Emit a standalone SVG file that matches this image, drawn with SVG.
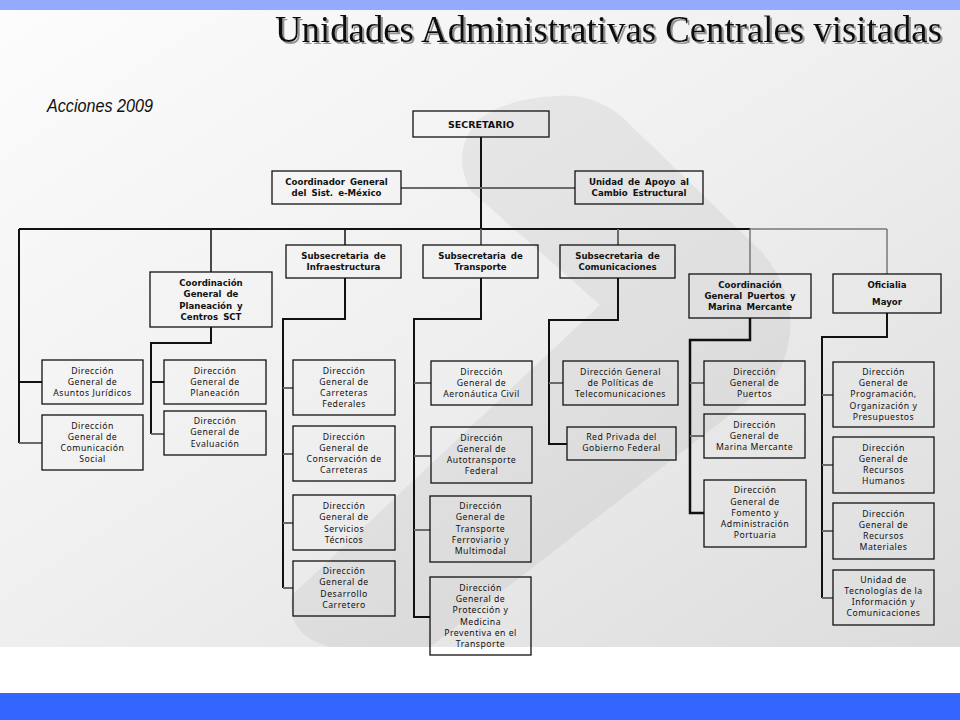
<svg xmlns="http://www.w3.org/2000/svg" width="960" height="720" viewBox="0 0 960 720">
<defs>
<linearGradient id="bg" x1="0" y1="0" x2="1" y2="1">
<stop offset="0" stop-color="#fcfcfc"/>
<stop offset="0.5" stop-color="#efefef"/>
<stop offset="1" stop-color="#dcdcdc"/>
</linearGradient>
<filter id="shadow" x="-5%" y="-30%" width="110%" height="160%">
<feDropShadow dx="2" dy="2" stdDeviation="0.6" flood-color="#888" flood-opacity="0.9"/>
</filter>
<style>
.box{fill:none;stroke:#111;stroke-width:1.3}
.t1{font-family:"DejaVu Sans",Verdana,sans-serif;font-weight:bold;font-size:8.6px;fill:#111;text-anchor:middle;word-spacing:2px}
.t2{font-family:"Noto Sans","Open Sans",sans-serif;font-size:8.7px;fill:#111;text-anchor:middle;letter-spacing:0.5px}
.k{fill:none;stroke:#111;stroke-width:2}
.g{fill:none;stroke:#6a6a6a;stroke-width:2}
.gl{fill:none;stroke:#777;stroke-width:1.5}
</style>
</defs>
<rect x="0" y="0" width="960" height="720" fill="#ffffff"/>
<rect x="0" y="0" width="960" height="10" fill="#93aaff"/>
<rect x="0" y="10" width="960" height="637" fill="url(#bg)"/>
<path d="M555 96 Q590 92 620 115 L760 250 Q812 310 775 380 L430 647 L330 647 Q285 635 292 595 L600 305 L470 190 Q450 150 480 118 Q510 98 555 96 Z" fill="#000" fill-opacity="0.05"/>
<rect x="0" y="693" width="960" height="27" fill="#3366ff"/>

<text x="942" y="42" font-family="Liberation Serif,serif" font-size="37" fill="#111" text-anchor="end" textLength="667" lengthAdjust="spacingAndGlyphs" filter="url(#shadow)">Unidades Administrativas Centrales visitadas</text>
<text x="47" y="112" font-family="Liberation Sans,Arial,sans-serif" font-style="italic" font-size="18" fill="#111" textLength="106" lengthAdjust="spacingAndGlyphs">Acciones 2009</text>

<g id="connectors">
<path class="k" d="M481 137 V229"/>
<path class="g" d="M401 188 H575"/>
<path class="k" d="M19 229 H750"/>
<path class="gl" d="M750 229 H887"/>
<path class="k" d="M19 229 V443"/>
<path class="g" d="M19 443 H42"/>
<path class="k" d="M19 382 H42"/>
<path class="k" style="stroke-width:1.5" d="M211 229 V272"/>
<path class="k" style="stroke-width:1.5" d="M345 229 V245"/>
<path class="g" d="M481 229 V245"/>
<path class="g" d="M618 229 V245"/>
<path class="gl" d="M750 229 V274"/>
<path class="gl" d="M887 229 V274"/>
<path class="k" d="M211 327 V343 H151 V434"/>
<path class="g" d="M151 434 H164"/>
<path class="k" d="M151 382 H164"/>
<path class="k" d="M345 278 V319 H283 V588"/>
<path class="g" d="M283 388 H293 M283 454 H293 M283 523 H293 M283 588 H293"/>
<path class="k" d="M481 278 V319 H414 V617 H430"/>
<path class="g" d="M414 383 H431 M414 456 H431 M414 530 H430"/>
<path class="k" d="M618 278 V320 H549 V444 H567"/>
<path class="g" d="M549 383 H563"/>
<path class="k" style="stroke-width:2.5" d="M750 318 V340 H690 V513 H704"/>
<path class="g" d="M690 383 H704 M690 436 H704"/>
<path class="k" d="M887 313 V337 H822 V598"/>
<path class="g" d="M822 395 H833 M822 465 H833 M822 531 H833 M822 598 H833"/>
</g>

<g id="secretario"><rect class="box" x="413" y="111" width="136" height="26"/><text class="t1" x="481" y="128" style="font-size:9.5px;word-spacing:0">SECRETARIO</text></g>
<g id="coord-emexico"><rect class="box" x="272" y="171" width="129" height="33"/><text class="t1" x="336.5" y="185">Coordinador General<tspan x="336.5" y="196">del Sist. e-México</tspan></text></g>
<g id="unidad-apoyo"><rect class="box" x="575" y="171" width="128" height="33"/><text class="t1" x="639" y="185">Unidad de Apoyo al<tspan x="639" y="196">Cambio Estructural</tspan></text></g>
<g id="sub-infra"><rect class="box" x="286" y="245" width="115" height="33"/><text class="t1" x="343.5" y="259">Subsecretaria de<tspan x="343.5" y="270">Infraestructura</tspan></text></g>
<g id="sub-transp"><rect class="box" x="423" y="245" width="115" height="33"/><text class="t1" x="480.5" y="259">Subsecretaria de<tspan x="480.5" y="270">Transporte</tspan></text></g>
<g id="sub-comun"><rect class="box" x="560" y="245" width="115" height="33"/><text class="t1" x="617.5" y="259">Subsecretaria de<tspan x="617.5" y="270">Comunicaciones</tspan></text></g>
<g id="coord-planeacion"><rect class="box" x="150" y="272" width="122" height="55"/><text class="t1" x="211" y="286">Coordinación<tspan x="211" y="297">General de</tspan><tspan x="211" y="309">Planeación y</tspan><tspan x="211" y="320">Centros SCT</tspan></text></g>
<g id="coord-puertos"><rect class="box" x="689" y="274" width="122" height="44"/><text class="t1" x="750" y="288">Coordinación<tspan x="750" y="299">General Puertos y</tspan><tspan x="750" y="310">Marina Mercante</tspan></text></g>
<g id="oficialia"><rect class="box" x="833" y="274" width="108" height="39"/><text class="t1" x="887" y="288">Oficialia<tspan x="887" y="305">Mayor</tspan></text></g>

<g id="dg-juridicos"><rect class="box" x="42" y="360" width="101" height="44"/><text class="t2" x="92.5" y="374">Dirección<tspan x="92.5" y="385">General de</tspan><tspan x="92.5" y="396">Asuntos Jurídicos</tspan></text></g>
<g id="dg-comsocial"><rect class="box" x="42" y="415" width="101" height="55"/><text class="t2" x="92.5" y="429">Dirección<tspan x="92.5" y="440">General de</tspan><tspan x="92.5" y="451">Comunicación</tspan><tspan x="92.5" y="462">Social</tspan></text></g>
<g id="dg-planeacion"><rect class="box" x="164" y="360" width="102" height="44"/><text class="t2" x="215" y="374">Dirección<tspan x="215" y="385">General de</tspan><tspan x="215" y="396">Planeación</tspan></text></g>
<g id="dg-evaluacion"><rect class="box" x="164" y="411" width="102" height="44"/><text class="t2" x="215" y="424">Dirección<tspan x="215" y="435">General de</tspan><tspan x="215" y="447">Evaluación</tspan></text></g>
<g id="dg-carreteras"><rect class="box" x="293" y="360" width="102" height="55"/><text class="t2" x="344" y="374">Dirección<tspan x="344" y="385">General de</tspan><tspan x="344" y="396">Carreteras</tspan><tspan x="344" y="407">Federales</tspan></text></g>
<g id="dg-conservacion"><rect class="box" x="293" y="426" width="102" height="55"/><text class="t2" x="344" y="440">Dirección<tspan x="344" y="451">General de</tspan><tspan x="344" y="462">Conservación de</tspan><tspan x="344" y="473">Carreteras</tspan></text></g>
<g id="dg-servicios"><rect class="box" x="293" y="495" width="102" height="55"/><text class="t2" x="344" y="509">Dirección<tspan x="344" y="520">General de</tspan><tspan x="344" y="532">Servicios</tspan><tspan x="344" y="543">Técnicos</tspan></text></g>
<g id="dg-desarrollo"><rect class="box" x="293" y="561" width="102" height="55"/><text class="t2" x="344" y="574">Dirección<tspan x="344" y="585">General de</tspan><tspan x="344" y="597">Desarrollo</tspan><tspan x="344" y="608">Carretero</tspan></text></g>
<g id="dg-aeronautica"><rect class="box" x="431" y="361" width="101" height="44"/><text class="t2" x="481.5" y="375">Dirección<tspan x="481.5" y="386">General de</tspan><tspan x="481.5" y="397">Aeronáutica Civil</tspan></text></g>
<g id="dg-autotransporte"><rect class="box" x="431" y="427" width="101" height="56"/><text class="t2" x="481.5" y="441">Dirección<tspan x="481.5" y="452">General de</tspan><tspan x="481.5" y="463">Autotransporte</tspan><tspan x="481.5" y="474">Federal</tspan></text></g>
<g id="dg-ferroviario"><rect class="box" x="430" y="496" width="101" height="66"/><text class="t2" x="480.5" y="509">Dirección<tspan x="480.5" y="520">General de</tspan><tspan x="480.5" y="532">Transporte</tspan><tspan x="480.5" y="543">Ferroviario y</tspan><tspan x="480.5" y="554">Multimodal</tspan></text></g>
<g id="dg-proteccion"><rect class="box" x="430" y="577" width="101" height="78"/><text class="t2" x="480.5" y="591">Dirección<tspan x="480.5" y="602">General de</tspan><tspan x="480.5" y="613">Protección y</tspan><tspan x="480.5" y="625">Medicina</tspan><tspan x="480.5" y="636">Preventiva en el</tspan><tspan x="480.5" y="647">Transporte</tspan></text></g>
<g id="dg-politicas"><rect class="box" x="563" y="361" width="115" height="44"/><text class="t2" x="620.5" y="375">Dirección General<tspan x="620.5" y="386">de Políticas de</tspan><tspan x="620.5" y="397">Telecomunicaciones</tspan></text></g>
<g id="red-privada"><rect class="box" x="567" y="427" width="109" height="33"/><text class="t2" x="621.5" y="440">Red Privada del<tspan x="621.5" y="451">Gobierno Federal</tspan></text></g>
<g id="dg-puertos"><rect class="box" x="704" y="361" width="101" height="44"/><text class="t2" x="754.5" y="375">Dirección<tspan x="754.5" y="386">General de</tspan><tspan x="754.5" y="397">Puertos</tspan></text></g>
<g id="dg-marina"><rect class="box" x="704" y="414" width="101" height="44"/><text class="t2" x="754.5" y="428">Dirección<tspan x="754.5" y="439">General de</tspan><tspan x="754.5" y="450">Marina Mercante</tspan></text></g>
<g id="dg-fomento"><rect class="box" x="704" y="480" width="102" height="67"/><text class="t2" x="755" y="493">Dirección<tspan x="755" y="505">General de</tspan><tspan x="755" y="516">Fomento y</tspan><tspan x="755" y="527">Administración</tspan><tspan x="755" y="538">Portuaria</tspan></text></g>
<g id="dg-programacion"><rect class="box" x="833" y="362" width="101" height="65"/><text class="t2" x="883.5" y="375">Dirección<tspan x="883.5" y="386">General de</tspan><tspan x="883.5" y="397">Programación,</tspan><tspan x="883.5" y="409">Organización y</tspan><tspan x="883.5" y="420">Presupuestos</tspan></text></g>
<g id="dg-rh"><rect class="box" x="833" y="437" width="101" height="56"/><text class="t2" x="883.5" y="451">Dirección<tspan x="883.5" y="462">General de</tspan><tspan x="883.5" y="473">Recursos</tspan><tspan x="883.5" y="484">Humanos</tspan></text></g>
<g id="dg-rm"><rect class="box" x="833" y="503" width="101" height="56"/><text class="t2" x="883.5" y="517">Dirección<tspan x="883.5" y="528">General de</tspan><tspan x="883.5" y="539">Recursos</tspan><tspan x="883.5" y="550">Materiales</tspan></text></g>
<g id="utic"><rect class="box" x="833" y="570" width="101" height="55"/><text class="t2" x="883.5" y="583">Unidad de<tspan x="883.5" y="594">Tecnologías de la</tspan><tspan x="883.5" y="605">Información y</tspan><tspan x="883.5" y="616">Comunicaciones</tspan></text></g>
</svg>
